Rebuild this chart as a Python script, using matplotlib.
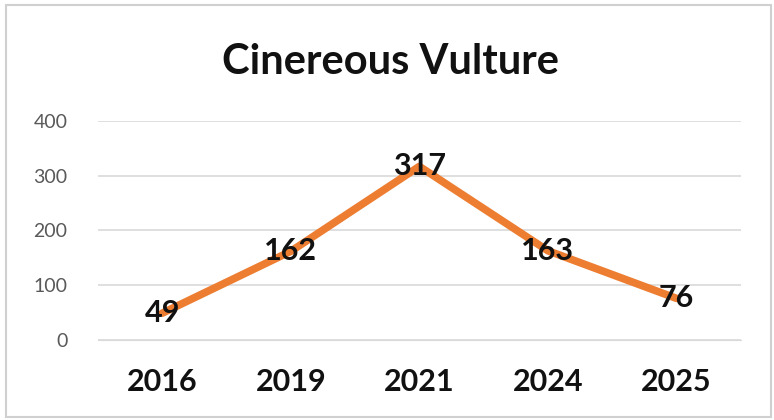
import matplotlib
matplotlib.use("Agg")
import matplotlib.pyplot as plt
from matplotlib.patches import Rectangle

years = ["2016", "2019", "2021", "2024", "2025"]
counts = [49, 162, 317, 163, 76]
y_ticks = [0, 100, 200, 300, 400]

plt.rcParams["font.family"] = ["Lato", "DejaVu Sans"]

fig = plt.figure(figsize=(7.74, 4.2), dpi=100)
ax = fig.add_axes([0.1266, 0.1905, 0.8304, 0.5215])

x = range(len(years))
ax.plot(x, counts, color="#ED7D31", linewidth=5.5, solid_capstyle="round",
        solid_joinstyle="round", zorder=2)
for xi, v in zip(x, counts):
    ax.text(xi, v, str(v), ha="center", va="center", fontsize=22,
            fontweight="bold", color="#111111", zorder=3)

ax.set_xlim(-0.5, len(years) - 0.5)
ax.set_ylim(0, 400)
ax.set_yticks(y_ticks)
ax.set_yticklabels([str(t) for t in y_ticks], fontsize=14, color="#595959")
ax.set_xticks(list(x))
ax.set_xticklabels(years, fontsize=22, fontweight="bold", color="#111111")
ax.tick_params(axis="both", length=0)
ax.tick_params(axis="y", pad=22)
ax.tick_params(axis="x", pad=20)
ax.grid(axis="y", color="#d9d9d9", linewidth=1.2)
ax.set_axisbelow(True)
for s in ax.spines.values():
    s.set_visible(False)
ax.spines["bottom"].set_visible(True)
ax.spines["bottom"].set_color("#d9d9d9")

fig.text(0.504, 0.852, "Cinereous Vulture", ha="center", va="center",
         fontsize=30, fontweight="bold", color="#111111")

fig.patches.append(Rectangle((0.008, 0.006), 0.988, 0.982, transform=fig.transFigure,
                             fill=False, edgecolor="#d0d0d0", linewidth=1.5))

fig.savefig("out.png", dpi=100)
